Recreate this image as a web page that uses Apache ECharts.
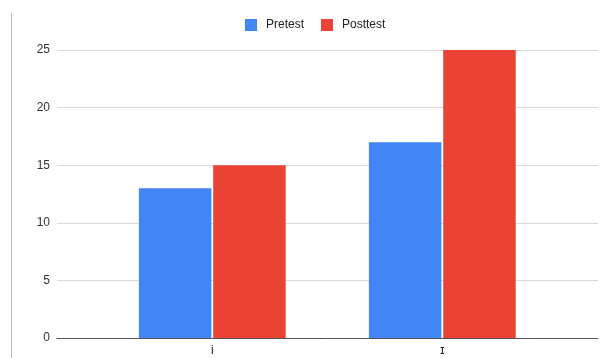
<!DOCTYPE html>
<html>
<head>
<meta charset="utf-8">
<script src="https://cdn.jsdelivr.net/npm/echarts@6/dist/echarts.min.js"></script>
<style>
  html, body { margin: 0; padding: 0; background: #fff; }
  #chart { width: 603px; height: 358px; }
</style>
</head>
<body>
<div id="chart"></div>
<script>
// Test scores per item
const categories = ['i', 'ɪ'];
const pretest = [13, 17];
const posttest = [15, 25];
const yTicks = { min: 0, max: 25, interval: 5 };

const chart = echarts.init(document.getElementById('chart'), null, { renderer: 'canvas' });

const font = 'Liberation Sans, Arial, sans-serif';

chart.setOption({
  animation: false,
  backgroundColor: '#ffffff',
  color: ['#4285F4', '#EA4335'],
  legend: {
    top: 19,
    left: 245,
    padding: 0,
    itemWidth: 12,
    itemHeight: 12,
    itemGap: 17,
    icon: 'rect',
    textStyle: { fontFamily: font, fontSize: 12, color: '#222', padding: [0, 0, 0, 4] },
    data: ['Pretest', 'Posttest']
  },
  grid: [
    // full-width frame: gridlines, baseline and value labels
    { left: 57, right: 5, top: 50, bottom: 20 },
    // inner band holding the bar groups
    { left: 97.3, right: 45.7, top: 50, bottom: 20 }
  ],
  xAxis: [
    {
      gridIndex: 0,
      type: 'category',
      data: categories,
      axisLine: { show: true, lineStyle: { color: '#555', width: 1 } },
      axisTick: { show: false },
      axisLabel: { show: false },
      splitLine: { show: false }
    },
    {
      gridIndex: 1,
      type: 'category',
      data: categories,
      axisLine: { show: false },
      axisTick: { show: false },
      axisLabel: { margin: 7, fontFamily: font, fontSize: 12, color: '#222' }
    }
  ],
  yAxis: [
    {
      gridIndex: 0,
      type: 'value',
      min: yTicks.min,
      max: yTicks.max,
      interval: yTicks.interval,
      axisLine: { show: false },
      axisTick: { show: false },
      axisLabel: { margin: 7, fontFamily: font, fontSize: 12, color: '#333' },
      splitLine: { lineStyle: { color: '#d9d9d9', width: 1 } }
    },
    {
      gridIndex: 1,
      type: 'value',
      min: yTicks.min,
      max: yTicks.max,
      interval: yTicks.interval,
      show: false
    }
  ],
  series: [
    {
      name: 'Pretest',
      type: 'bar',
      xAxisIndex: 1,
      yAxisIndex: 1,
      data: pretest,
      barWidth: 72.5,
      barGap: '2.5%',
      itemStyle: { color: '#4285F4' }
    },
    {
      name: 'Posttest',
      type: 'bar',
      xAxisIndex: 1,
      yAxisIndex: 1,
      data: posttest,
      barWidth: 72.5,
      barGap: '2.5%',
      itemStyle: { color: '#EA4335' }
    }
  ],
  graphic: [
    {
      type: 'line',
      shape: { x1: 11.5, y1: 13, x2: 11.5, y2: 358 },
      style: { stroke: '#bdbdbd', lineWidth: 1 }
    }
  ]
});
</script>
</body>
</html>
